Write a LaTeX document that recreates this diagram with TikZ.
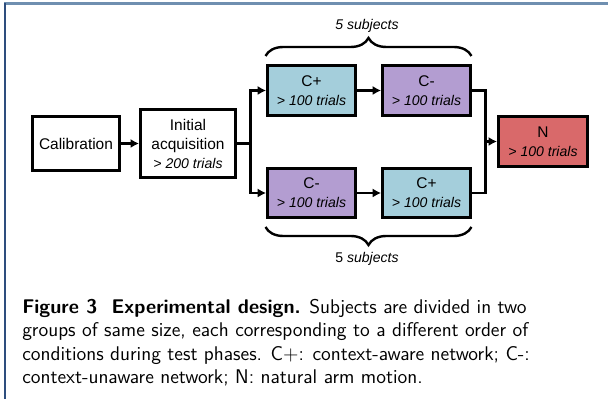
\documentclass[tikz,border=0pt]{standalone}
\usepackage{fontspec}
\usepackage{tikz}
\usetikzlibrary{arrows.meta,calc,decorations.pathreplacing}
\newfontfamily\arialsf{Liberation Sans}
\definecolor{cplus}{HTML}{A4CEDB}
\definecolor{cminus}{HTML}{B39DD1}
\definecolor{natred}{HTML}{D9696A}
\definecolor{frametop}{HTML}{6F8FB0}
\definecolor{frameleft}{HTML}{2E4E7E}
\tikzset{>={Latex[length=6pt,width=6.5pt]},box/.style={draw=black,line width=2.3pt,align=center,inner sep=0pt,font=\arialsf\fontsize{11}{13.5}\selectfont},phase/.style={box,minimum width=2.19cm,minimum height=1.24cm},link/.style={line width=1.8pt},arr/.style={->,line width=1.8pt},brc/.style={decorate,decoration={brace,amplitude=0.45cm},line width=1.7pt},smalllabel/.style={font=\arialsf\fontsize{10}{12}\selectfont}}
\newcommand{\trials}[1]{{\fontsize{10}{13.5}\selectfont\itshape > #1 trials}}

\begin{document}
\begin{tikzpicture}[x=.025cm,y=-.025cm]
\useasboundingbox (0,0) rectangle (608,399);
\draw[frametop,line width=1.5pt] (4,3.5)--(608,3.5);
\draw[frameleft,line width=1.1pt] (5,3)--(5,399);
\node[box,minimum width=2.19cm,minimum height=1.34cm] (cal) at (76,143.5) {Calibration};
\node[box,minimum width=2.37cm,minimum height=1.69cm] (acq) at (188,143.5) {Initial\\acquisition\\\trials{200}};
\node[phase,fill=cplus] (cpa) at (311.5,90.5) {C+\\\trials{100}};
\node[phase,fill=cminus] (cma) at (426.5,90.5) {C-\\\trials{100}};
\node[phase,fill=cminus] (cmb) at (311.5,193) {C-\\\trials{100}};
\node[phase,fill=cplus] (cpb) at (426.5,193) {C+\\\trials{100}};
\node[box,fill=natred,minimum width=2.22cm,minimum height=1.24cm] (nat) at (543,141.5) {N\\\trials{100}};
\coordinate (jl) at (250.5,143.5);
\coordinate (jr) at (485.5,141.5);
\draw[arr] (cal)--(acq);
\draw[link] (acq.east)--(jl);
\draw[arr] (jl)|-(cpa.west);
\draw[arr] (jl)|-(cmb.west);
\draw[arr] (cpa)--(cma);
\draw[arr] (cmb)--(cpb);
\draw[link] (cma.east)-|(jr);
\draw[link] (cpb.east)-|(jr);
\draw[arr] (jr)--(nat.west);
\coordinate (tl) at (265.5,56);
\coordinate (tr) at (471.5,56);
\coordinate (bl) at (265.5,227);
\coordinate (br) at (471.5,227);
\draw[brc] (tl)--(tr);
\draw[brc] (br)--(bl);
\node[smalllabel,font=\arialsf\fontsize{10}{12}\selectfont\itshape] (topn) at (367,26) {5 subjects};
\node[smalllabel] (botn) at (367,259) {5 \textit{subjects}};
\node[anchor=north west,align=left,inner sep=0pt,font=\sffamily\fontsize{14.1}{16.6}\selectfont] (cap) at (22,299) {\textbf{Figure 3\ \ Experimental design.} Subjects are divided in two\\groups of same size, each corresponding to a different order of\\conditions during test phases. C$+$: context-aware network; C-:\\context-unaware network; N: natural arm motion.};
\end{tikzpicture}
\end{document}
